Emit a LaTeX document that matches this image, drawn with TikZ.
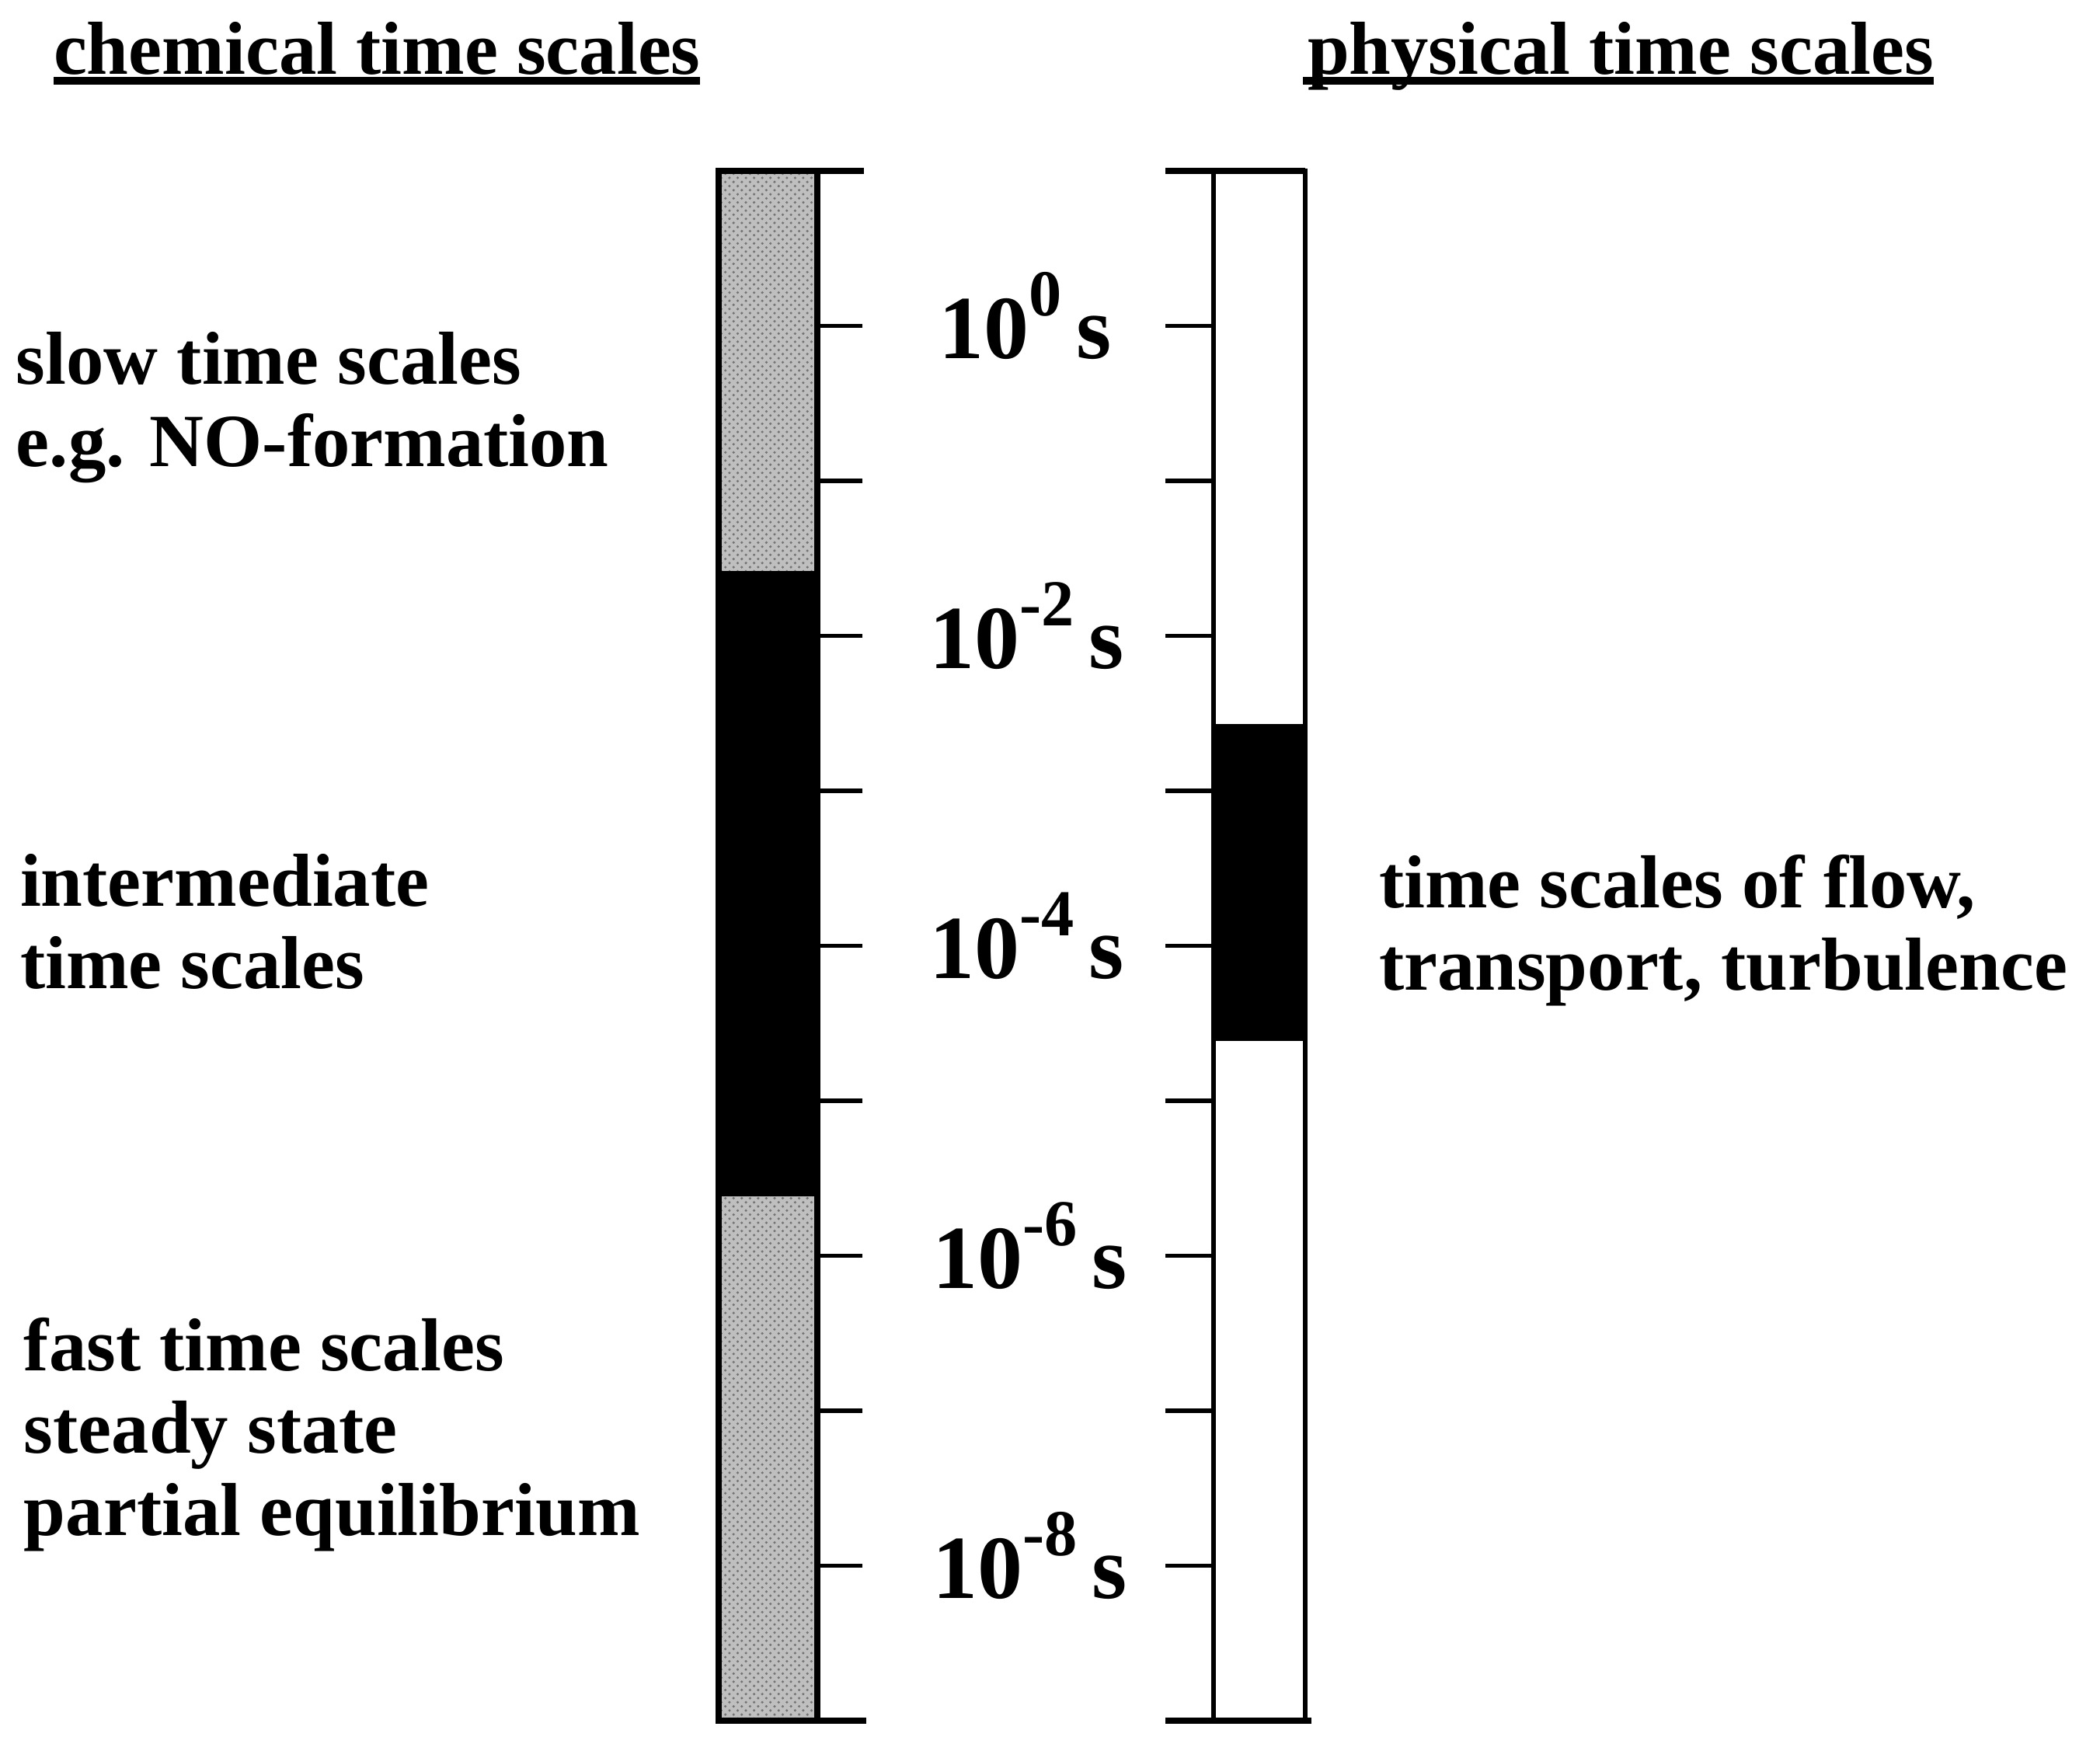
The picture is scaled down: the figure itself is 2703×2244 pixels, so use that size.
\documentclass[tikz,border=0pt]{standalone}
\usepackage{fontspec}
\setmainfont{Liberation Serif}
\usetikzlibrary{patterns,calc}
\newcommand\myexp[1]{\raisebox{15.5pt}{\fontsize{24}{24}\selectfont #1}\hspace{5.5pt}}
\begin{document}
\begin{tikzpicture}[x=0.01cm,y=-0.01cm,
  txt/.style={font=\fontsize{27.5}{30}\selectfont\bfseries, anchor=base west, inner sep=0pt, outer sep=0pt},
  tlab/.style={font=\fontsize{33}{33}\selectfont\bfseries, anchor=base west, inner sep=0pt, outer sep=0pt},
  uline/.style={line width=3pt},
  lbar/.style={line width=2.5pt},
  rbar/.style={line width=1.8pt},
  tickline/.style={line width=1.6pt},
  grayfill/.style={fill=black!25},
  stip/.style={pattern=crosshatch dots, pattern color=black!55}]
\useasboundingbox (0,0) rectangle (2703,2244);
\fill[white] (0,0) rectangle (2703,2244);
% titles
\node[txt] (chem) at (69,95) {chemical time scales};
\node[txt] (phys) at (1683,95) {physical time scales};
\draw[uline] ($(chem.base west)+(0,9)$) -- ($(chem.base east)+(0,9)$);
\draw[uline] ($(phys.base west)+(-6,9)$) -- ($(phys.base east)+(0,9)$);
% left texts
\node[txt] (slow1) at (21,494) {slow time scales};
\node[txt] (slow2) at (21,600) {e.g. NO-formation};
\node[txt] (int1) at (26,1166) {intermediate};
\node[txt] (int2) at (26,1272) {time scales};
\node[txt] (fast1) at (31,1764) {fast time scales};
\node[txt] (fast2) at (31,1870) {steady state};
\node[txt] (fast3) at (31,1976) {partial equilibrium};
% right texts
\node[txt] (r1) at (1775,1168) {time scales of flow,};
\node[txt] (r2) at (1775,1274) {transport, turbulence};
% left bar
\fill[grayfill] (925,220) rectangle (1052,735);
\fill[stip] (925,220) rectangle (1052,735);
\fill[black] (925,735) rectangle (1052,1540);
\fill[grayfill] (925,1540) rectangle (1052,2215);
\fill[stip] (925,1540) rectangle (1052,2215);
\draw[lbar] (925,220) rectangle (1052,2215);
\draw[lbar] (925,220) -- (1112,220);
\draw[lbar] (925,2215) -- (1115,2215);
\foreach \k in {1,...,9} \draw[tickline] (1052,{220+199.5*\k}) -- (1110,{220+199.5*\k});
% right bar
\fill[black] (1562,932) rectangle (1680,1340);
\draw[rbar] (1562,220) rectangle (1680,2215);
\draw[lbar] (1500,220) -- (1680,220);
\draw[lbar] (1500,2215) -- (1688,2215);
\foreach \k in {1,...,9} \draw[tickline] (1500,{220+199.5*\k}) -- (1562,{220+199.5*\k});
% scale labels
\node[tlab] (e0) at (1208,461) {10\myexp{0}s};
\node[tlab] (e2) at (1196,860) {10\myexp{-2}s};
\node[tlab] (e4) at (1196,1259) {10\myexp{-4}s};
\node[tlab] (e6) at (1200,1658) {10\myexp{-6}s};
\node[tlab] (e8) at (1200,2057) {10\myexp{-8}s};
\end{tikzpicture}
\end{document}
